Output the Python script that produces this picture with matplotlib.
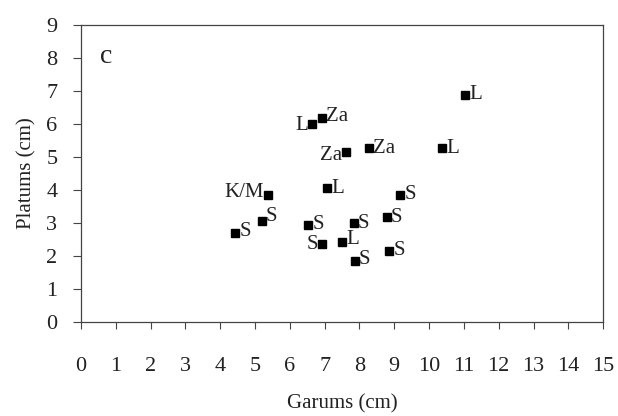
import matplotlib
matplotlib.use("Agg")
import matplotlib.pyplot as plt

# Garums / Platums measurements with group labels
garums = [11.03, 6.65, 6.93, 7.61, 8.28, 10.38, 7.06, 9.17, 5.38,
          4.43, 5.19, 6.53, 7.84, 8.78, 6.93, 7.49, 7.87, 8.85]
platums = [6.88, 6.00, 6.17, 5.14, 5.26, 5.26, 4.05, 3.85, 3.85,
           2.69, 3.07, 2.94, 2.99, 3.17, 2.36, 2.41, 1.86, 2.16]
groups = ["L", "L", "Za", "Za", "Za", "L", "L", "S", "K/M",
          "S", "S", "S", "S", "S", "S", "L", "S", "S"]

# label placement: side of marker and vertical nudge (points)
sides = ["r", "l", "r", "l", "r", "r", "r", "r", "l",
         "r", "r", "r", "r", "r", "l", "r", "r", "r"]
nudge = [0, -1, 1, -2, 0, 0, 0, 0, 2,
         1, 3, 0, 0, 0, 0, 2, 1, 0]

plt.rcParams['font.family'] = ['Liberation Serif', 'DejaVu Serif']

fig = plt.figure(figsize=(6.18, 4.16), dpi=100)
ax = fig.add_axes([0.131, 0.226, 0.845, 0.714])

ax.plot(garums, platums, 's', color='black', markersize=6, linestyle='none')

for x, y, g, s, dy in zip(garums, platums, groups, sides, nudge):
    if s == "r":
        ax.annotate(g, (x, y), xytext=(3, dy), textcoords='offset points',
                    ha='left', va='center', fontsize=15, color='#222222')
    else:
        ax.annotate(g, (x, y), xytext=(-3, dy), textcoords='offset points',
                    ha='right', va='center', fontsize=15, color='#222222')

ax.text(0.55, 8.05, "c", fontsize=20, ha='left', va='center', color='#222222')

ax.set_xlim(0, 15)
ax.set_ylim(0, 9)
ax.set_xticks(range(0, 16))
ax.set_yticks(range(0, 10))

for sp in ax.spines.values():
    sp.set_color('#444444')
    sp.set_linewidth(0.9)

ax.tick_params(axis='x', direction='out', length=5, width=0.8, pad=20,
               labelsize=16, colors='#444444', labelcolor='#222222')
ax.tick_params(axis='y', direction='out', length=6, width=0.8, pad=11,
               labelsize=16, colors='#444444', labelcolor='#222222')

ax.set_xlabel("Garums (cm)", fontsize=15, color='#222222', labelpad=13)
ax.set_ylabel("Platums (cm)", fontsize=15, color='#222222', labelpad=7)

fig.savefig("out.png", dpi=100)
